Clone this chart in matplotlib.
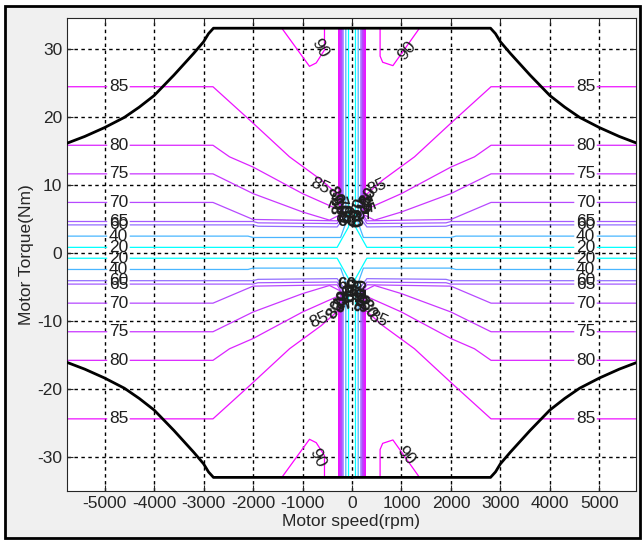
import numpy as np
import matplotlib.pyplot as plt
from matplotlib.patches import Rectangle

plt.rcParams['font.family'] = ['Liberation Sans', 'DejaVu Sans']
plt.rcParams['axes.unicode_minus'] = False

# efficiency contour levels (%)
levels = [20, 40, 60, 65, 70, 75, 80, 85]

# one quadrant (speed < 0, torque > 0) of every contour;
# the other three quadrants are mirror images
speed_20 = [-5760, -300, -70, -70]
torque_20 = [0.8, 0.8, 3.8, 33]
speed_40 = [-5760, -2100, -2000, -230, -125, -125]
torque_40 = [2.45, 2.45, 2.25, 2.25, 4.4, 33]
speed_60 = [-5760, -2000, -1900, -300, -180, -180]
torque_60 = [4.1, 4.1, 3.9, 3.8, 5.0, 33]
speed_65 = [-5760, -2000, -1900, -300, -200, -200]
torque_65 = [4.6, 4.6, 4.4, 4.3, 5.5, 33]
speed_70 = [-5760, -2810, -2000, -300, -215, -215]
torque_70 = [7.4, 7.4, 4.9, 4.7, 5.8, 33]
speed_75 = [-5760, -2810, -2000, -1000, -455, -235, -235]
torque_75 = [11.6, 11.6, 8.7, 6.0, 4.8, 5.6, 33]
speed_80 = [-5760, -2810, -2475, -2000, -1000, -320, -255, -255]
torque_80 = [15.8, 15.8, 14.1, 12.6, 8.7, 6.5, 6.6, 33]
speed_85 = [-5760, -2810, -2036, -1263, -622, -280, -270, -270]
torque_85 = [24.4, 24.4, 19.3, 14.1, 10.7, 8.5, 8.0, 33]

quad_speed = {20: speed_20, 40: speed_40, 60: speed_60, 65: speed_65,
              70: speed_70, 75: speed_75, 80: speed_80, 85: speed_85}
quad_torque = {20: torque_20, 40: torque_40, 60: torque_60, 65: torque_65,
               70: torque_70, 75: torque_75, 80: torque_80, 85: torque_85}

# small 90% islands near max torque (top side, bottom is mirrored)
speed_90_left = [-1418, -859, -723, -556, -556]
torque_90_left = [33, 27.4, 27.9, 29.8, 33]
speed_90_right = [568, 568, 620, 827, 1364]
torque_90_right = [33, 28.9, 28.0, 27.5, 33]

# max torque envelope (speed > 0, torque > 0)
env_speed = [0, 2800, 2900, 3000, 3200, 3400, 3600, 3800, 4000, 4300, 4600,
             5000, 5400, 5760]
env_torque = [33, 33, 32.2, 31.0, 29.3, 27.7, 26.1, 24.6, 23.1, 21.4, 19.9,
              18.4, 17.1, 16.1]

# crowded labels near the origin (upper cluster, lower one mirrored)
blob_text = ['85', '85', '80', '75', '70', '80', '75', '70', '65', '60', '60',
             '85', '85', '80', '75', '65']
blob_speed = [-655, 515, -330, -280, -200, 330, 250, 120, -80, 40, -100,
              -250, 220, -150, 150, 90]
blob_torque = [9.8, 9.7, 8.3, 7.5, 6.8, 8.3, 7.3, 6.6, 5.8, 5.0, 4.6,
               7.0, 7.2, 6.0, 6.2, 5.2]
blob_rot = [-25, 25, -60, 70, -70, 60, -70, 70, 80, -80, 0,
            85, -85, 90, -90, 90]

label_speed = 4720  # side labels sit at +-this speed
gap = 240

norm = plt.Normalize(20, 90)
cmap = plt.cm.cool
txt = '#1e1e1e'

fig = plt.figure(figsize=(6.43, 5.40), dpi=100)
fig.patch.set_facecolor('white')
fig.patches.append(Rectangle((5 / 643, 2 / 540), 635 / 643, 532 / 540,
                             transform=fig.transFigure, facecolor='#f0f0f0',
                             edgecolor='black', lw=2, zorder=-10))
ax = fig.add_axes([67 / 643, 49 / 540, 569 / 643, 473 / 540])

for lev in levels:
    xs = np.array(quad_speed[lev], dtype=float)
    ys = np.array(quad_torque[lev], dtype=float)
    # break the flat part where the side label goes
    xs = np.concatenate([[xs[0], -label_speed - gap, np.nan, -label_speed + gap], xs[1:]])
    ys = np.concatenate([[ys[0], ys[0], np.nan, ys[0]], ys[1:]])
    for sx in (1, -1):
        for sy in (1, -1):
            ax.plot(sx * xs, sy * ys, color=cmap(norm(lev)), lw=0.9, zorder=2)
            ax.text(-sx * label_speed, sy * ys[0], str(lev), fontsize=12.5,
                    color=txt, ha='center', va='center', zorder=4)

for sy in (1, -1):
    ax.plot(speed_90_left, sy * np.array(torque_90_left), color=cmap(norm(90)), lw=0.9)
    ax.plot(speed_90_right, sy * np.array(torque_90_right), color=cmap(norm(90)), lw=0.9)
ax.text(-650, 30.0, '90', fontsize=12.5, color=txt, rotation=-60, ha='center', va='center')
ax.text(1100, 29.7, '90', fontsize=12.5, color=txt, rotation=50, ha='center', va='center')
ax.text(-700, -30.2, '90', fontsize=12.5, color=txt, rotation=-65, ha='center', va='center')
ax.text(1080, -29.8, '90', fontsize=12.5, color=txt, rotation=-50, ha='center', va='center')

for i, (t, x, y, r) in enumerate(zip(blob_text, blob_speed, blob_torque, blob_rot)):
    w = 'normal' if i < 2 else 'bold'
    ax.text(x, y, t, fontsize=12.5, color=txt, rotation=r, ha='center', va='center',
            fontweight=w, zorder=4)
    ax.text(x, -y, t, fontsize=12.5, color=txt, rotation=-r, ha='center', va='center',
            fontweight=w, zorder=4)

es = np.array(env_speed)
et = np.array(env_torque)
for sx in (1, -1):
    for sy in (1, -1):
        ax.plot(sx * es, sy * et, color='black', lw=2, zorder=3)

ax.set_xlim(-5760, 5740)
ax.set_ylim(-35, 34.5)
ax.set_xticks(np.arange(-5000, 5001, 1000))
ax.set_yticks(np.arange(-30, 31, 10))
ax.grid(True, color='black', linestyle=(0, (2.5, 2.5)), lw=1.0)
ax.tick_params(direction='in', top=True, right=True, length=4, labelsize=12.5,
               colors='#262626')
ax.set_xlabel('Motor speed(rpm)', fontsize=12.5, color='#262626', labelpad=2)
ax.set_ylabel('Motor Torque(Nm)', fontsize=12.5, color='#262626', labelpad=2)
for s in ax.spines.values():
    s.set_color('#262626')

fig.savefig('out.png', dpi=100, facecolor=fig.get_facecolor())
